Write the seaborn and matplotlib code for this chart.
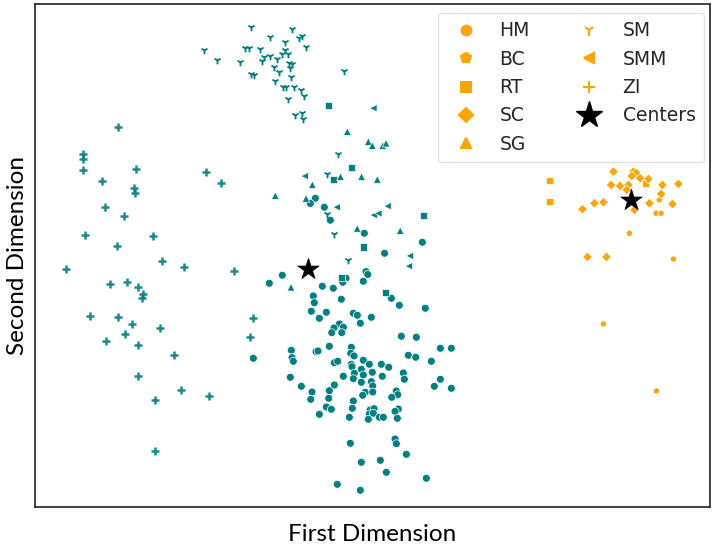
import numpy as np
import pandas as pd
import seaborn as sns
import matplotlib.pyplot as plt
from matplotlib.lines import Line2D

TEAL = "#008080"
ORANGE = "#FFA500"

# cluster 0 (teal) -- 2-D embedding coordinates
hm_x = [315.3, 310.3, 324.3, 330.3, 364.3, 422.3, 384.5, 366.0, 367.7, 282.3, 269.3, 346.0, 342.7, 363.3,
        322.3, 333.3, 313.3, 314.3, 341.3, 391.3, 399.3, 425.3, 311.3, 326.3, 319.3, 353.3, 357.3, 371.3,
        360.3, 339.3, 334.0, 343.3, 331.7, 341.7, 401.3, 416.3, 253.3, 291.3, 292.0, 293.3, 316.0, 318.0,
        329.3, 351.3, 350.7, 354.0, 334.3, 337.7, 363.3, 369.3, 351.3, 352.0, 381.3, 388.7, 408.3, 415.7,
        440.3, 451.3, 431.3, 290.3, 343.3, 354.3, 353.3, 361.3, 363.3, 372.3, 382.3, 403.3, 404.3, 361.3,
        371.3, 372.7, 440.3, 434.3, 451.3, 301.3, 334.3, 329.3, 328.7, 312.0, 310.7, 365.3, 362.7, 372.7,
        396.3, 397.7, 391.7, 353.3, 326.3, 331.3, 352.3, 319.3, 370.0, 374.0, 369.3, 373.3, 398.3, 395.0,
        349.3, 368.3, 379.3, 383.3, 397.3, 350.3, 395.0, 396.3, 406.3, 361.3, 380.3, 386.3, 426.3, 337.3,
        360.3]
hm_y = [301.7, 296.5, 292.7, 279.7, 266.7, 257.7, 246.7, 228.3, 225.5, 224.7, 216.7, 221.7, 217.7, 218.7,
        213.7, 211.7, 204.0, 197.3, 200.7, 201.7, 194.7, 191.7, 188.7, 187.7, 181.7, 186.7, 184.7, 182.7,
        176.7, 176.0, 172.0, 172.7, 167.3, 167.3, 163.7, 162.7, 141.7, 149.7, 142.3, 138.7, 148.3, 149.0,
        153.7, 152.7, 146.7, 144.0, 137.3, 138.7, 139.7, 135.7, 135.7, 133.3, 135.7, 132.7, 144.7, 142.7,
        151.7, 151.7, 138.7, 122.7, 123.7, 126.7, 121.3, 130.7, 125.0, 127.7, 123.7, 127.0, 120.7, 117.7,
        118.3, 114.0, 120.7, 113.7, 111.7, 113.7, 115.0, 109.3, 101.7, 108.0, 100.7, 107.7, 104.7, 108.0,
        109.0, 105.3, 102.7, 99.0, 93.0, 90.7, 91.7, 85.7, 90.0, 91.3, 86.0, 86.7, 91.0, 88.7,
        82.7, 80.7, 82.7, 82.7, 81.7, 56.7, 61.0, 56.3, 45.7, 37.7, 39.7, 27.7, 21.7, 15.7,
        9.7]

rt_x = [328.3, 351.3, 333.3, 423.3, 363.3, 341.5, 385.3]
rt_y = [394.7, 332.7, 320.7, 284.7, 252.8, 222.7, 207.7]

sg_x = [347.3, 368.3, 372.3, 382.7, 386.0, 340.5, 361.5, 377.3, 312.3, 275.3, 306.0, 357.2, 400.2, 291.0]
sg_y = [368.3, 358.3, 354.3, 354.3, 356.7, 323.3, 323.3, 320.5, 315.2, 304.3, 301.5, 271.5, 269.3, 212.7]

smm_x = [373.3, 304.7, 336.7, 387.5, 373.7, 378.3, 409.7, 408.8]
smm_y = [391.7, 323.8, 292.7, 293.8, 284.8, 286.5, 244.0, 233.8]

sm_x = [251.0, 292.3, 270.0, 299.0, 302.3, 285.3, 306.0, 204.0, 245.0, 249.3, 260.0, 285.3, 281.7, 288.3,
        264.0, 270.0, 217.3, 240.3, 262.0, 277.3, 289.0, 291.7, 290.0, 274.3, 279.3, 344.3, 291.3, 250.7,
        254.0, 275.3, 282.7, 286.0, 294.3, 301.3, 303.7, 288.0, 295.0, 302.3, 303.3, 338.3, 327.2, 327.2,
        334.3, 348.3]
sm_y = [473.3, 470.7, 463.3, 461.7, 464.0, 457.7, 452.7, 450.0, 452.3, 452.3, 451.3, 450.3, 446.0, 446.0,
        443.3, 444.3, 440.0, 437.7, 439.3, 440.7, 437.3, 436.0, 432.3, 432.7, 428.3, 429.3, 422.7, 425.7,
        425.0, 419.3, 412.7, 412.7, 412.7, 409.7, 403.7, 400.7, 385.0, 387.3, 381.3, 345.7, 325.7, 286.3,
        265.7, 239.5]

zi_x = [117.7, 82.7, 82.7, 82.7, 135.7, 206.0, 220.7, 101.7, 133.7, 134.7, 105.0, 123.7, 85.0, 152.7,
        116.7, 161.7, 184.3, 65.7, 233.7, 109.7, 126.7, 137.7, 143.0, 141.7, 89.7, 117.7, 131.7, 159.7,
        124.7, 105.7, 138.3, 173.7, 137.7, 180.7, 208.7, 154.7, 154.7, 252.7, 250.0]
zi_y = [373.3, 345.7, 341.0, 330.3, 331.3, 328.3, 317.3, 319.3, 312.3, 307.0, 292.7, 284.3, 265.3, 264.3,
        254.3, 239.3, 233.3, 231.0, 229.3, 216.3, 217.7, 213.0, 205.7, 202.0, 184.3, 183.3, 175.7, 172.3,
        166.3, 158.7, 155.3, 145.0, 124.3, 110.3, 104.3, 100.3, 49.3, 182.3, 163.3]

# cluster 1 (orange)
bc_x = [656.0, 661.0, 629.3, 673.3, 603.3, 656.3, 659.3]
bc_y = [286.7, 286.7, 266.7, 241.0, 176.0, 109.0, 300.0]

rt2_x = [549.3, 549.3, 645.7]
rt2_y = [319.7, 298.7, 316.7]

sc_x = [613.3, 633.3, 636.0, 631.7, 640.0, 648.3, 611.0, 620.0, 628.3, 626.7, 662.3, 678.3, 661.0, 582.3,
        594.3, 603.3, 649.3, 672.3, 634.3, 587.3, 606.3]
sc_y = [328.3, 328.3, 327.0, 324.0, 321.7, 321.0, 315.0, 314.0, 315.0, 310.0, 315.0, 316.0, 306.0, 290.7,
        296.7, 297.7, 296.7, 296.0, 290.0, 243.0, 243.0]

center_x = [308.3, 630.7]
center_y = [230.7, 300.0]

labels = ["HM", "BC", "RT", "SC", "SG", "SM", "SMM", "ZI"]
marker_map = {"HM": "o", "BC": "p", "RT": "s", "SC": "D", "SG": "^", "SM": "1", "SMM": "<", "ZI": "+"}
size_map = {"HM": 32, "BC": 26, "RT": 28, "SC": 24, "SG": 30, "SM": 30, "SMM": 28, "ZI": 34}


def frame(xs, ys, cat, cluster):
    return pd.DataFrame({"x": xs, "y": ys, "cat": cat, "cluster": cluster})


filled = pd.concat([
    frame(hm_x, hm_y, "HM", 0),
    frame(rt_x, rt_y, "RT", 0),
    frame(sg_x, sg_y, "SG", 0),
    frame(smm_x, smm_y, "SMM", 0),
    frame(bc_x, bc_y, "BC", 1),
    frame(rt2_x, rt2_y, "RT", 1),
    frame(sc_x, sc_y, "SC", 1),
], ignore_index=True)

sns.set_style("white")
fig, ax = plt.subplots(figsize=(7.18, 5.49), dpi=100)
fig.subplots_adjust(left=0.0487, right=0.989, top=0.992, bottom=0.0765)

palette = {0: TEAL, 1: ORANGE}
for cat in ["HM", "BC", "RT", "SC", "SG", "SMM"]:
    sub = filled[filled["cat"] == cat]
    sns.scatterplot(data=sub, x="x", y="y", hue="cluster", palette=palette, marker=marker_map[cat],
                    s=size_map[cat], edgecolor="white", linewidth=0.5, legend=False, ax=ax)

sns.scatterplot(x=sm_x, y=sm_y, marker="1", color=TEAL, s=size_map["SM"], linewidth=1.3, legend=False, ax=ax)
sns.scatterplot(x=zi_x, y=zi_y, marker="+", color=TEAL, s=size_map["ZI"], linewidth=1.8, alpha=0.9,
                legend=False, ax=ax)
sns.scatterplot(x=center_x, y=center_y, marker="*", color="black", s=260, edgecolor="black", linewidth=0.5,
                legend=False, ax=ax)

ax.set_xlim(35, 710)
ax.set_ylim(-7, 495.5)
ax.set_xticks([69, 214, 358, 503, 647])
ax.set_yticks([440, 373, 307, 240, 174, 108, 41])
ax.tick_params(length=2, width=0.8, color="#bbbbbb", labelleft=False, labelbottom=False)
for sp in ax.spines.values():
    sp.set_color("#333333")
    sp.set_linewidth(1.3)

ax.set_xlabel("First Dimension", fontsize=17.5, family="Lato", color="black", labelpad=12)
ax.set_ylabel("Second Dimension", fontsize=17.5, family="Lato", color="black", labelpad=5)

handles = []
for cat in labels:
    ms = {"o": 7, "p": 7, "s": 6.5, "D": 7, "^": 6.5, "1": 8, "<": 6.5, "+": 8}[marker_map[cat]]
    handles.append(Line2D([], [], linestyle="none", marker=marker_map[cat], color=ORANGE,
                          markeredgecolor=ORANGE, markersize=ms, markeredgewidth=1.5, label=cat))
handles.append(Line2D([], [], linestyle="none", marker="*", color="black", markersize=20, label="Centers"))

ax.legend(handles=handles, ncol=2, loc="upper right", fontsize=13.5, frameon=True,
          borderpad=0.45, labelspacing=0.5, handletextpad=0.8, columnspacing=2.15,
          borderaxespad=0, bbox_to_anchor=(0.991, 0.983), edgecolor="#dddddd", fancybox=True)

fig.savefig("out.png", dpi=100)
